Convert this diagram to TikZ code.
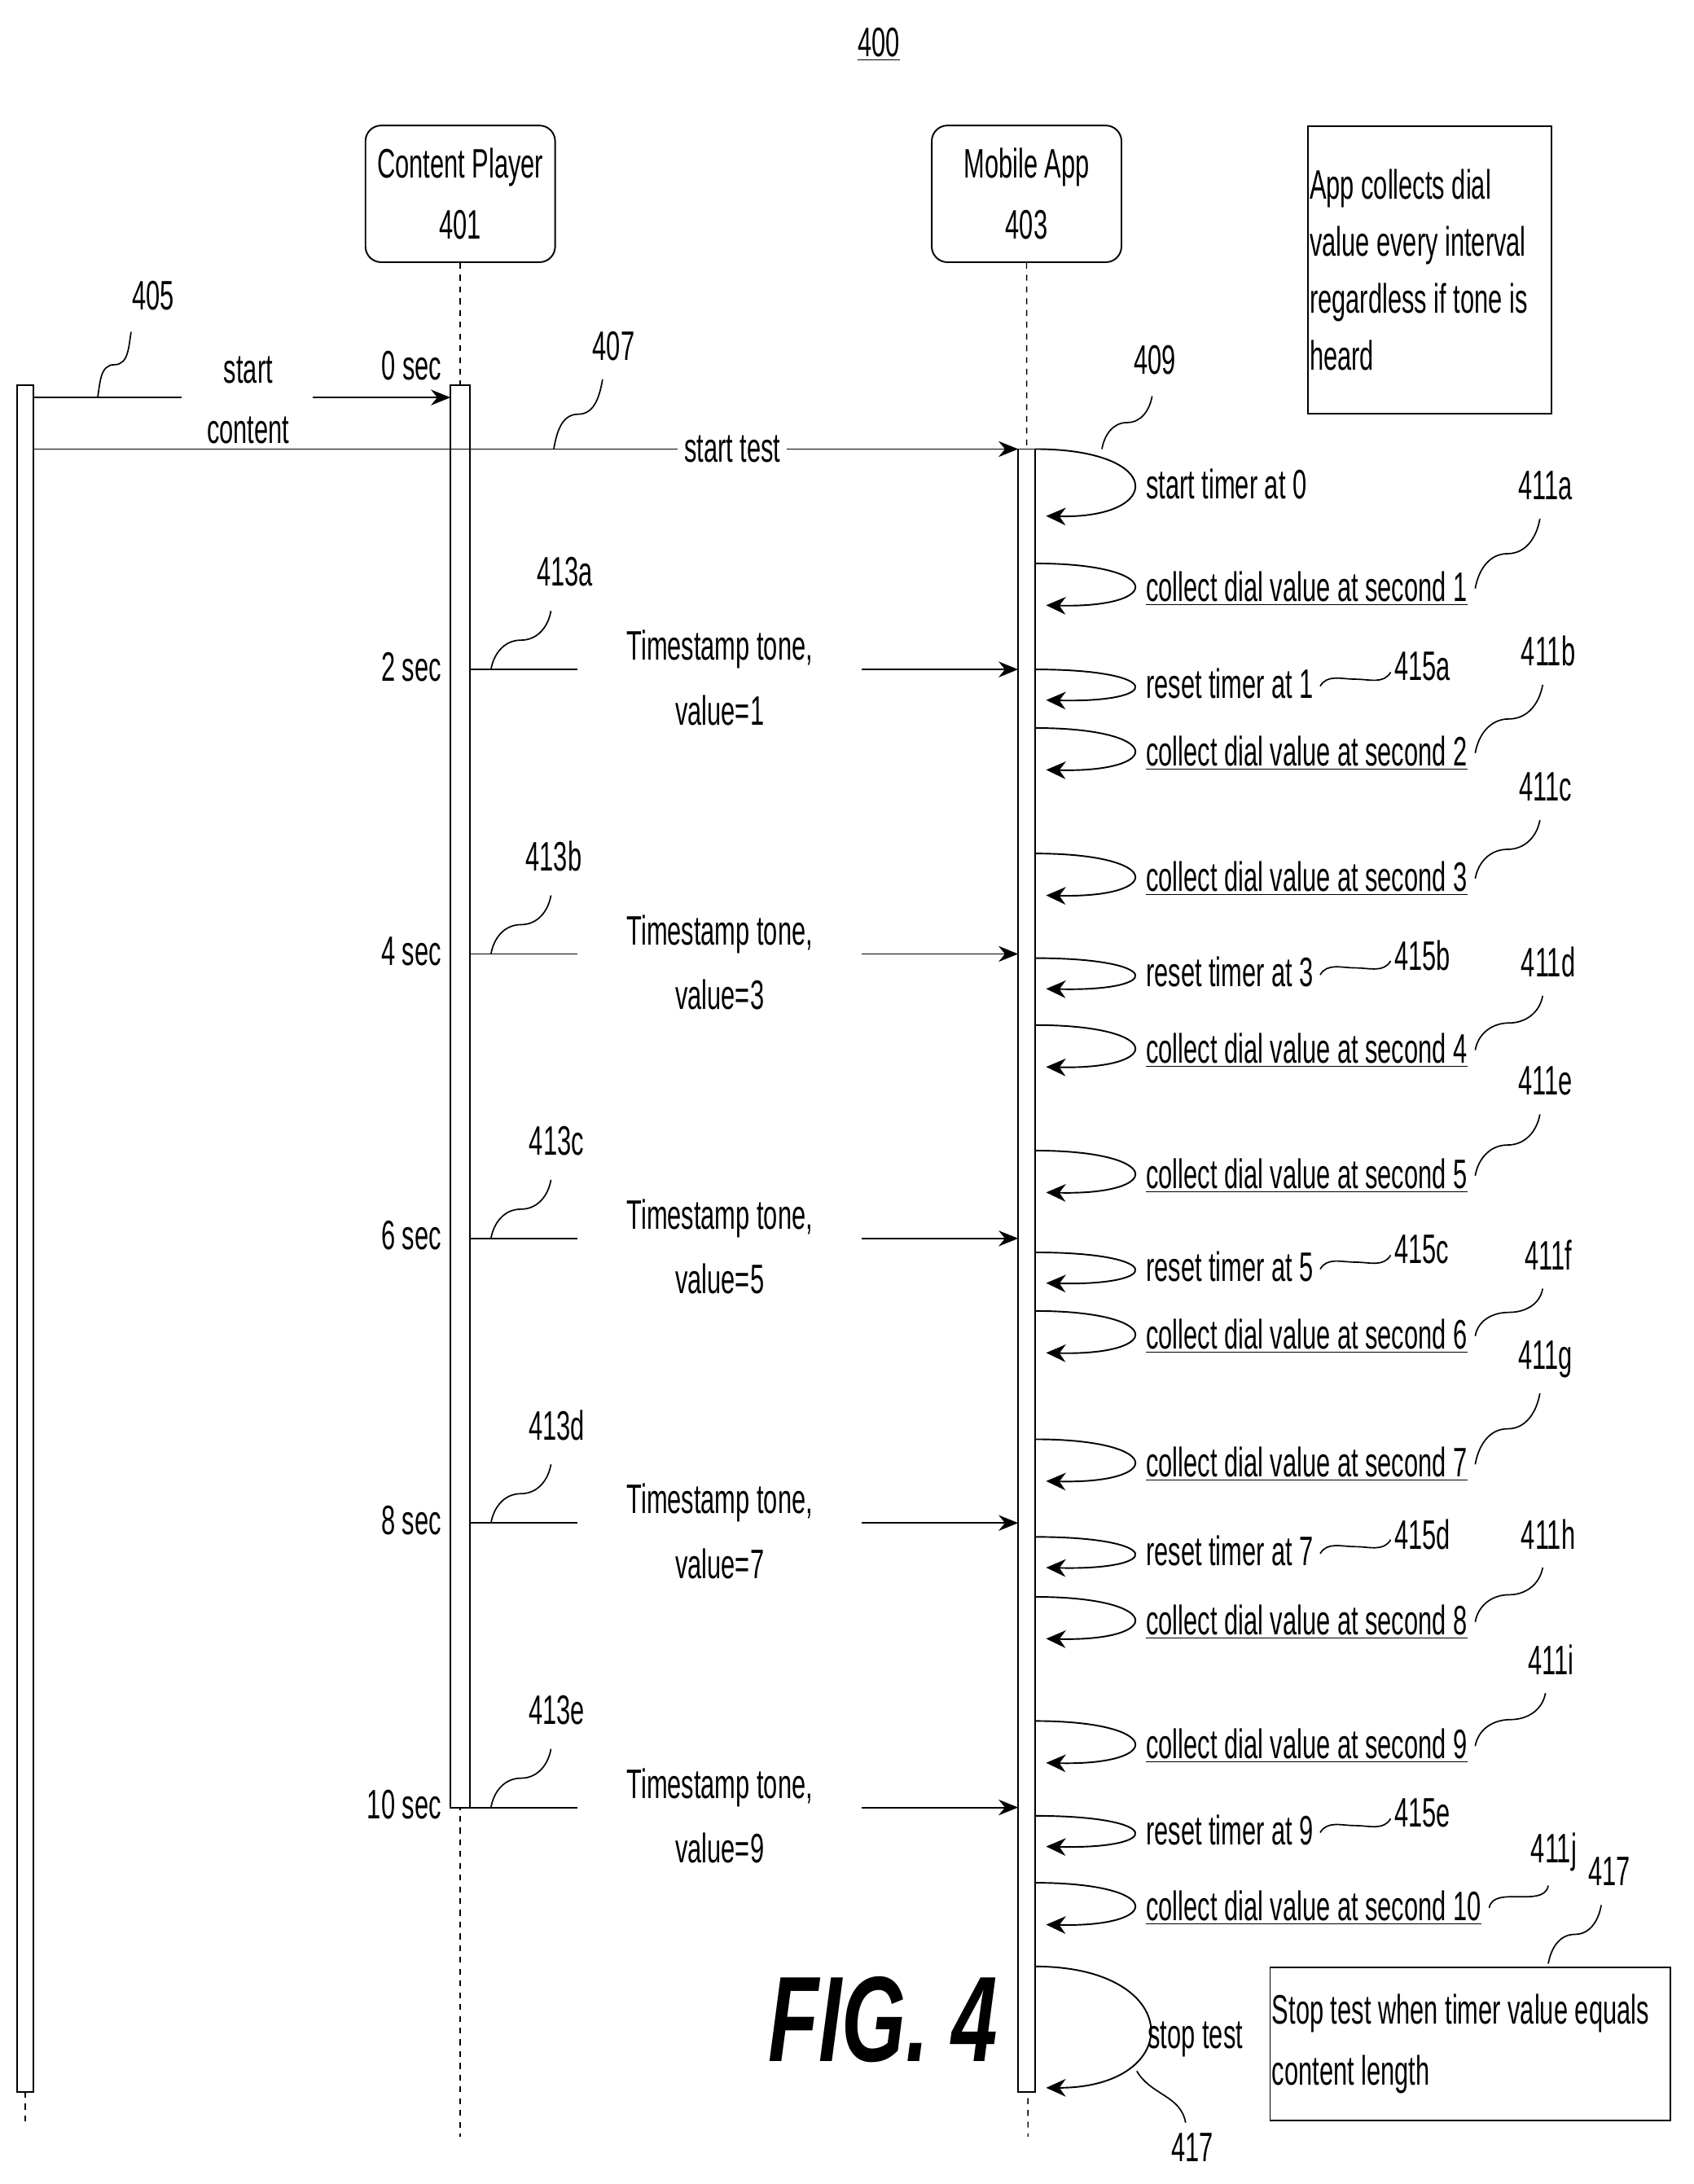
\documentclass[tikz,border=0pt]{standalone}
\usepackage{fontspec}
\setmainfont{Liberation Sans}[FakeStretch=0.61]
\newfontfamily\figfont{Liberation Sans}[FakeStretch=0.68]
\usetikzlibrary{arrows.meta,calc}
\tikzset{
  box/.style={draw,rounded corners=8pt,minimum width=34mm,minimum height=24.5mm,align=center,line width=0.8pt},
  note/.style={draw,align=flush left,line width=0.8pt,inner sep=4pt,anchor=north west},
  life/.style={dashed,line width=0.6pt},
  bar/.style={draw,fill=white,line width=0.8pt},
  msg/.style={line width=0.8pt,-{Stealth[length=10pt,width=8pt]}},
  loop/.style={line width=0.8pt,-{Stealth[length=10pt,width=9pt]}},
  txt/.style={font=\fontsize{21}{25}\selectfont,inner sep=1pt},
  lbl/.style={font=\fontsize{21}{25}\selectfont,inner sep=1pt},
}
% reference squiggle between two points
\newcommand{\squig}[2]{\draw[line width=0.7pt] (#1) to[out=80,in=180] ($(#1)!0.5!(#2)$) to[out=0,in=-100] (#2);}
\newcommand{\hsquig}[2]{\draw[line width=0.7pt] (#1) to[out=60,in=180] ($(#1)!0.5!(#2)$) to[out=0,in=-120] (#2);}
\begin{document}
\begin{tikzpicture}[x=0.25mm,y=-0.25mm]
  \useasboundingbox (0,0) rectangle (1214,1566);

  % title
  \node[lbl] (fignum) at (630,32) {\underline{400}};

  % participants
  \node[box,txt] (player) at (330,139) {Content Player\\[6pt]401};
  \node[box,txt] (app) at (736,139) {Mobile App\\[6pt]403};
  \node[note,txt,text width=43mm,minimum height=51.5mm] (note1) at (937,90) {App collects dial\\[4pt]value every interval\\[4pt]regardless if tone is\\[4pt]heard};
  \draw[life] (player.south) -- (330,1532);
  \draw[life] (app.south) -- (737,1532);
  \draw[life] (18,1500) -- (18,1522);

  % activation bars
  \draw[bar] (12,276) rectangle (24,1500);
  \draw[bar] (323,276) rectangle (337,1296);
  \draw[bar] (730,322) rectangle (742,1500);

  % start content / start test
  \node[txt,align=center] (startc) at (178,287) {start\\[6pt]content};
  \draw[line width=0.8pt] (24,285) -- (130,285);
  \draw[msg] (224,285) -- (323,285);
  \node[txt] (sec0) at (295,262) {0 sec};
  \node[lbl] (n405) at (110,212) {405};
  \squig{70,285}{94,238}
  \node[txt,fill=white,inner sep=3pt] (startt) at (525,322) {start test};
  \draw[line width=0.8pt] (24,322) -- (startt.west);
  \draw[msg] (startt.east) -- (730,322);
  \node[lbl] (n407) at (440,248) {407};
  \squig{397,322}{432,272}

  % start timer loop
  \draw[loop] (742,322) .. controls (835,322) and (835,372) .. (750,370);
  \node[txt,anchor=west] (stimer) at (820,347) {start timer at 0};
  \node[lbl] (n409) at (828,258) {409};
  \squig{790,322}{826,284}

  % timestamp tones
  \foreach \y/\s/\v/\n/\lx in {480/2/1/413a/405,684/4/3/413b/397,888/6/5/413c/399,1092/8/7/413d/399,1296/10/9/413e/399}{
    \draw[line width=0.8pt] (337,\y) -- (414,\y);
    \draw[msg] (618,\y) -- (730,\y);
    \node[txt,align=center] at (516,\y+6) {Timestamp tone,\\[8pt]value=\v};
    \node[txt,anchor=east] at (318,\y-2) {\s\ sec};
    \node[lbl] at (\lx,\y-70) {\n};
    \squig{352,\y}{395,\y-42}
  }

  % collect loops
  \foreach \y/\k/\n/\lx/\ly in {422/1/411a/1108/348,540/2/411b/1110/467,630/3/411c/1108/564,753/4/411d/1110/690,843/5/411e/1108/775,958/6/411f/1110/900,1050/7/411g/1108/975,1163/8/411h/1110/1100,1252/9/411i/1112/1190,1368/10/411j/1114/1328}{
    \draw[loop] (742,\y-18) .. controls (835,\y-18) and (835,\y+14) .. (750,\y+12);
    \node[txt,anchor=west] (c\k) at (820,\y) {\underline{collect dial value at second \k}};
    \node[lbl] at (\lx,\ly) {\n};
    \squig{$(c\k.east)+(4,0)$}{\lx-4,\ly+24}
  }

  % reset loops
  \foreach \y/\v/\n in {490/1/415a,697/3/415b,908/5/415c,1112/7/415d,1312/9/415e}{
    \draw[loop] (742,\y-10) .. controls (835,\y-10) and (835,\y+14) .. (750,\y+12);
    \node[txt,anchor=west] (r\v) at (820,\y) {reset timer at \v};
    \hsquig{$(r\v.east)+(3,2)$}{997,\y-8}
    \node[lbl,anchor=west] at (998,\y-12) {\n};
  }

  % stop test
  \draw[loop] (742,1410) .. controls (850,1410) and (850,1497) .. (750,1497);
  \node[txt] (stop) at (857,1462) {stop test};
  \node[lbl] (n417b) at (855,1540) {417};
  \draw[line width=0.7pt] (815,1485) to[out=-60,in=100] (850,1522);
  \node[note,txt,text width=71mm,minimum height=27.5mm] (note2) at (910,1410) {Stop test when timer value equals\\[6pt]content length};
  \node[lbl] (n417a) at (1154,1342) {417};
  \squig{1110,1408}{1148,1366}

  \node[font=\figfont\fontsize{62}{66}\selectfont\bfseries\itshape] (fig) at (633,1448) {FIG. 4};
\end{tikzpicture}
\end{document}
